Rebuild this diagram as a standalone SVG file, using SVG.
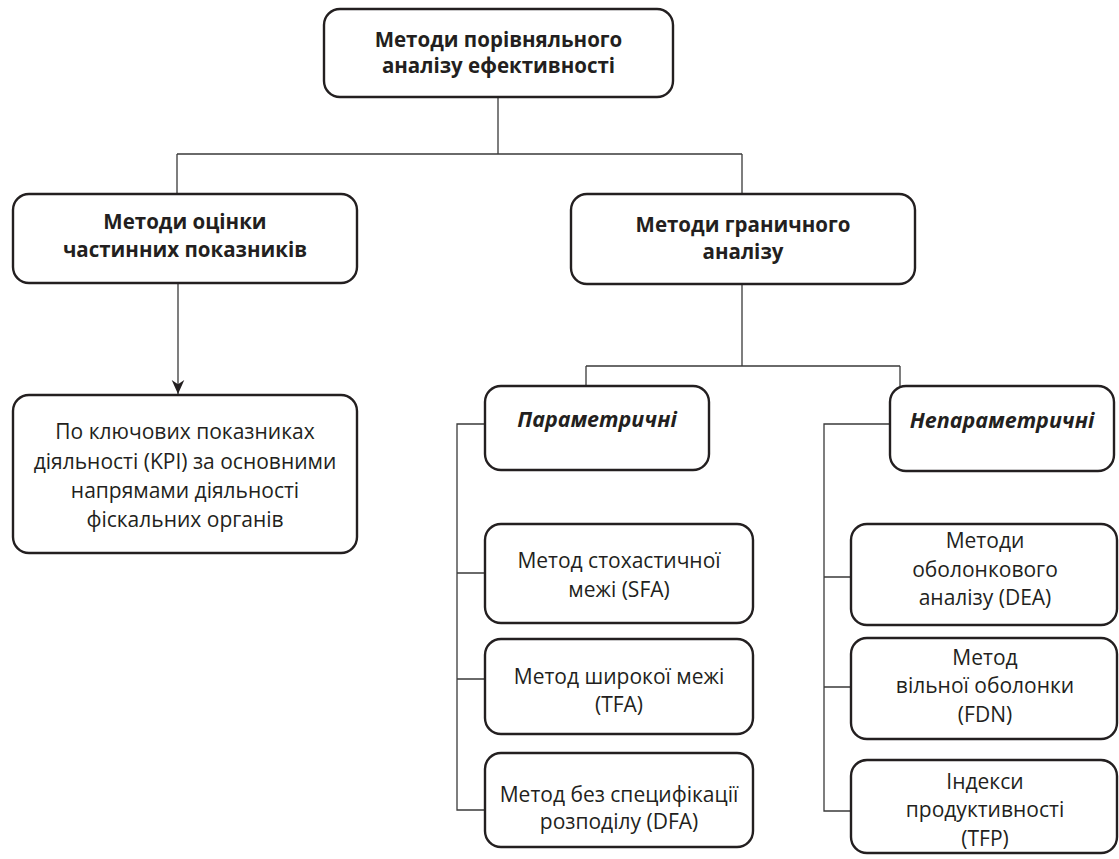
<svg xmlns="http://www.w3.org/2000/svg" width="1119" height="859" viewBox="0 0 1119 859">
<style>
.box{fill:#fff;stroke:#231f20;stroke-width:2.4}
.ln{fill:none;stroke:#3a3a3a;stroke-width:1.3}
text{font-family:"Open Sans","Noto Sans",sans-serif;fill:#231f20;text-anchor:middle}
.b{font-weight:bold;font-size:20.5px}
.r{font-size:21px}
.bi{font-weight:bold;font-style:italic;font-size:21.5px}
</style>
<defs>
<marker id="ah" viewBox="0 0 10 10" refX="10" refY="5" markerWidth="14" markerHeight="14" markerUnits="userSpaceOnUse" orient="auto">
<path d="M0,0.5 L10,5 L0,9.5 L3,5 Z" fill="#231f20"/>
</marker>
</defs>
<g id="connectors">
<path class="ln" d="M498,97 V154 M177,154 H742 M177,154 V194 M742,154 V194"/>
<path class="ln" d="M178,284 V394" marker-end="url(#ah)"/>
<path class="ln" d="M742,284 V366 M586,366 H900 M586,366 V386 M900,366 V386"/>
<path class="ln" d="M485,424 H457 V810 H485 M457,573 H485 M457,679 H485"/>
<path class="ln" d="M890,424 H824 V811 H851 M824,577 H851 M824,687 H851"/>
</g>
<g id="n-top">
<rect class="box" x="324" y="9" width="349" height="88" rx="16"/>
<text class="b" x="498.5" y="47">Методи порівняльного</text>
<text class="b" x="498.5" y="73">аналізу ефективності</text>
</g>
<g id="n-partial">
<rect class="box" x="13" y="194" width="344" height="89" rx="16"/>
<text class="b" x="185" y="229">Методи оцінки</text>
<text class="b" x="185" y="257">частинних показників</text>
</g>
<g id="n-frontier">
<rect class="box" x="571" y="194" width="344" height="90" rx="16"/>
<text class="b" x="743" y="232">Методи граничного</text>
<text class="b" x="743" y="259">аналізу</text>
</g>
<g id="n-kpi">
<rect class="box" x="13" y="395" width="344" height="158" rx="16"/>
<text class="r" x="185" y="439">По ключових показниках</text>
<text class="r" x="185" y="469">діяльності (KPI) за основними</text>
<text class="r" x="185" y="498">напрямами діяльності</text>
<text class="r" x="185" y="527">фіскальних органів</text>
</g>
<g id="n-param">
<rect class="box" x="485" y="386" width="224" height="84" rx="16"/>
<text class="bi" x="597" y="427">Параметричні</text>
</g>
<g id="n-nonparam">
<rect class="box" x="890" y="386" width="224" height="85" rx="16"/>
<text class="bi" x="1002" y="428">Непараметричні</text>
</g>
<g id="n-sfa">
<rect class="box" x="485" y="524" width="268" height="99" rx="16"/>
<text class="r" x="619" y="568">Метод стохастичної</text>
<text class="r" x="619" y="597">межі (SFA)</text>
</g>
<g id="n-tfa">
<rect class="box" x="485" y="639" width="268" height="95" rx="16"/>
<text class="r" x="619" y="684">Метод широкої межі</text>
<text class="r" x="619" y="712">(TFA)</text>
</g>
<g id="n-dfa">
<rect class="box" x="485" y="753" width="268" height="94" rx="16"/>
<text class="r" x="619" y="802">Метод без специфікації</text>
<text class="r" x="619" y="829">розподілу (DFA)</text>
</g>
<g id="n-dea">
<rect class="box" x="851" y="524" width="266" height="101" rx="16"/>
<text class="r" x="985" y="548">Методи</text>
<text class="r" x="985" y="577">оболонкового</text>
<text class="r" x="985" y="605">аналізу (DEA)</text>
</g>
<g id="n-fdn">
<rect class="box" x="851" y="638" width="266" height="101" rx="16"/>
<text class="r" x="985" y="665">Метод</text>
<text class="r" x="985" y="693">вільної оболонки</text>
<text class="r" x="985" y="722">(FDN)</text>
</g>
<g id="n-tfp">
<rect class="box" x="851" y="760" width="266" height="93" rx="16"/>
<text class="r" x="985" y="789">Індекси</text>
<text class="r" x="985" y="817">продуктивності</text>
<text class="r" x="985" y="846">(TFP)</text>
</g>
</svg>
